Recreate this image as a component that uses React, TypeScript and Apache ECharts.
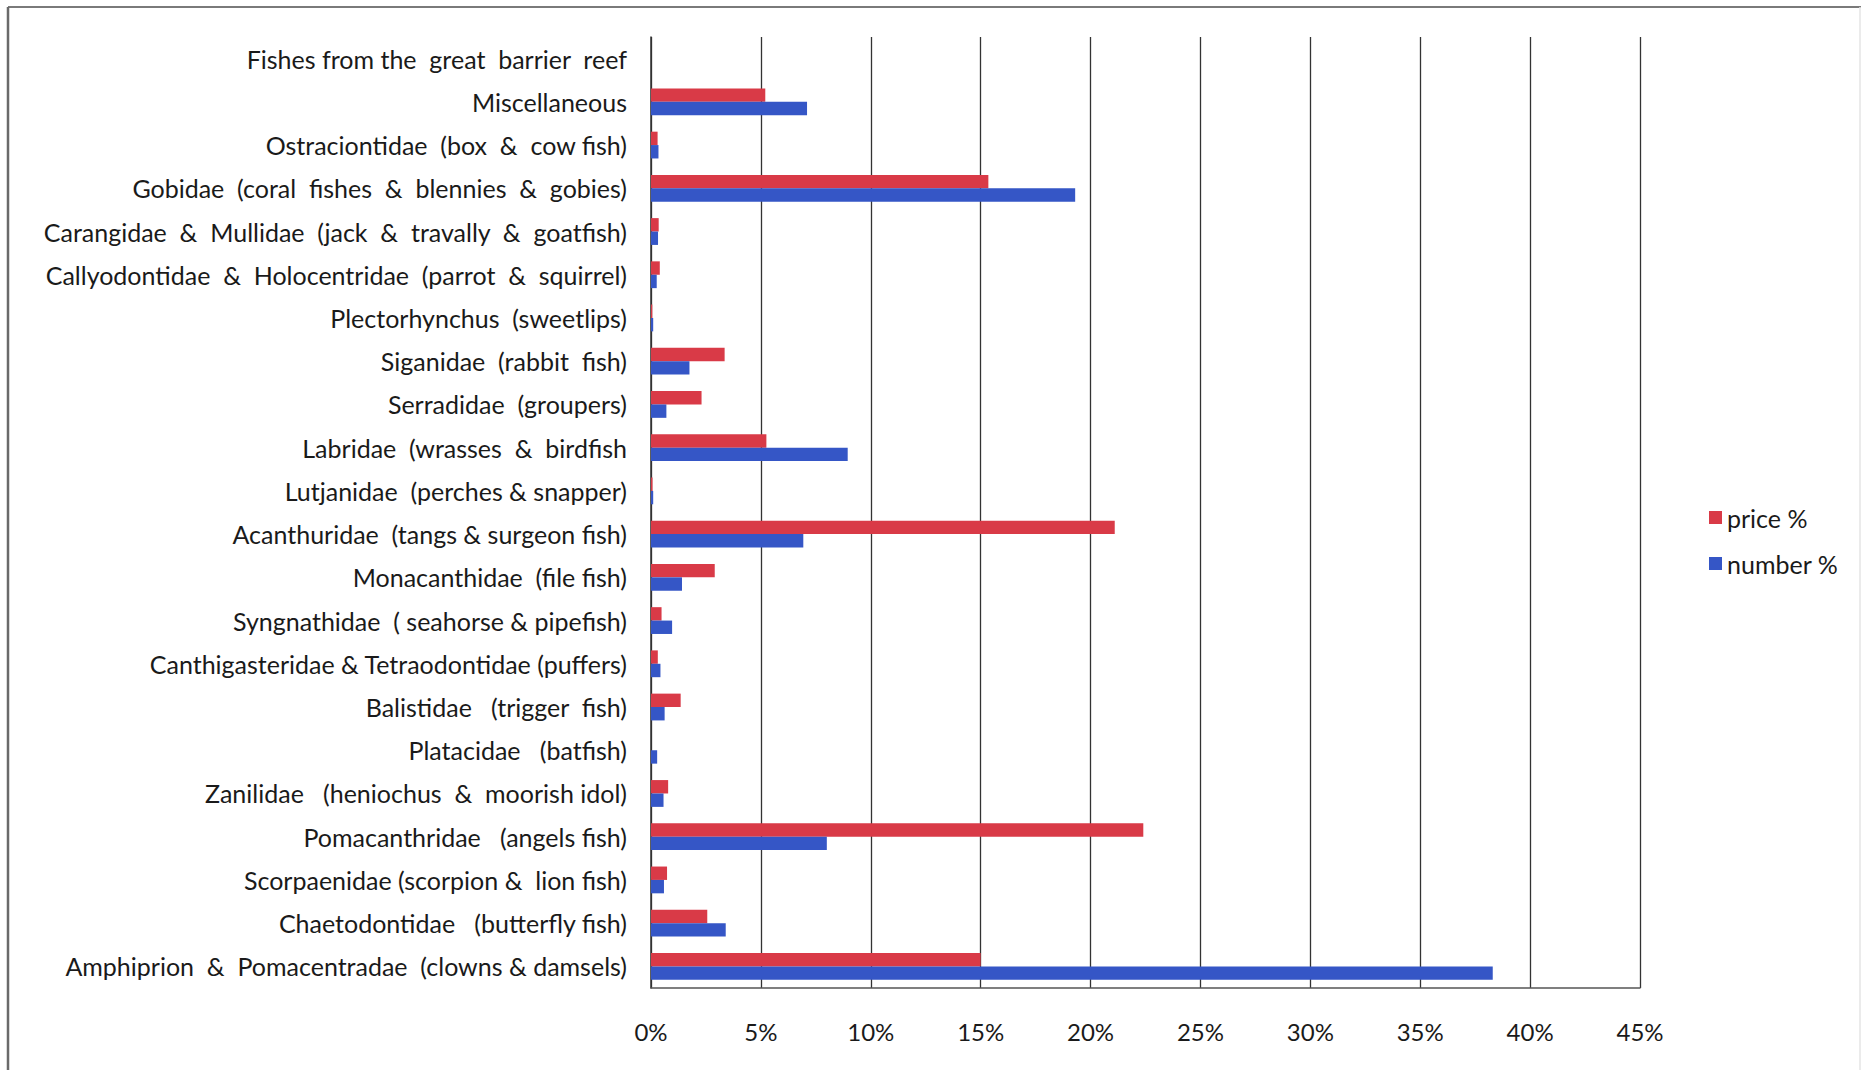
import React, { useEffect, useRef } from "react";
import * as echarts from "echarts";

const categories: string[] = [
  "Fishes from the  great  barrier  reef",
  "Miscellaneous",
  "Ostraciontidae  (box  &  cow fish)",
  "Gobidae  (coral  fishes  &  blennies  &  gobies)",
  "Carangidae  &  Mullidae  (jack  &  travally  &  goatfish)",
  "Callyodontidae  &  Holocentridae  (parrot  &  squirrel)",
  "Plectorhynchus  (sweetlips)",
  "Siganidae  (rabbit  fish)",
  "Serradidae  (groupers)",
  "Labridae  (wrasses  &  birdfish",
  "Lutjanidae  (perches & snapper)",
  "Acanthuridae  (tangs & surgeon fish)",
  "Monacanthidae  (file fish)",
  "Syngnathidae  ( seahorse & pipefish)",
  "Canthigasteridae & Tetraodontidae (puffers)",
  "Balistidae   (trigger  fish)",
  "Platacidae   (batfish)",
  "Zanilidae   (heniochus  &  moorish idol)",
  "Pomacanthridae   (angels fish)",
  "Scorpaenidae (scorpion &  lion fish)",
  "Chaetodontidae   (butterfly fish)",
  "Amphiprion  &  Pomacentradae  (clowns & damsels)",
];

const pricePct: number[] = [
  0, 5.2, 0.3, 15.35, 0.35, 0.4, 0.06, 3.35, 2.3, 5.25, 0.07, 21.1, 2.9, 0.48,
  0.31, 1.35, 0, 0.78, 22.4, 0.73, 2.56, 15.0,
];

const numberPct: number[] = [
  0, 7.1, 0.34, 19.3, 0.32, 0.26, 0.1, 1.75, 0.7, 8.95, 0.1, 6.93, 1.41, 0.96,
  0.43, 0.62, 0.28, 0.57, 8.0, 0.59, 3.4, 38.3,
];

const seriesNames: string[] = ["price %", "number %"];
const axisMax = 45;
const axisStep = 5;

const RED = "#D93A47";
const BLUE = "#3556C6";
const FONT = "Lato, 'Noto Sans', sans-serif";
const TEXT = "#1a1a1a";

export default function App() {
  const ref = useRef<HTMLDivElement>(null);
  useEffect(() => {
    if (!ref.current) return;
    const chart = echarts.init(ref.current, null, { renderer: "svg" });
    chart.setOption({
      animation: false,
      backgroundColor: "#ffffff",
      textStyle: { fontFamily: FONT },
      graphic: [
        {
          type: "line",
          shape: { x1: 8, y1: 7, x2: 1861, y2: 7 },
          style: { stroke: "#7a7a7a", lineWidth: 2 },
          silent: true,
        },
        {
          type: "line",
          shape: { x1: 8, y1: 7, x2: 8, y2: 1070 },
          style: { stroke: "#6a6a6a", lineWidth: 2.5 },
          silent: true,
        },
        {
          type: "line",
          shape: { x1: 1860, y1: 7, x2: 1860, y2: 1070 },
          style: { stroke: "#e4e4e4", lineWidth: 1.5 },
          silent: true,
        },
      ],
      legend: {
        orient: "vertical",
        left: 1704,
        top: 500,
        itemWidth: 13,
        itemHeight: 13,
        itemGap: 21,
        icon: "rect",
        textStyle: { fontSize: 25, color: TEXT, fontFamily: FONT },
        data: seriesNames,
      },
      grid: { left: 651, right: 223, top: 37, bottom: 82, containLabel: false },
      xAxis: {
        type: "value",
        min: 0,
        max: axisMax,
        interval: axisStep,
        axisLine: { show: true, lineStyle: { color: "#555", width: 1.5 } },
        axisTick: { show: false },
        splitLine: { show: true, lineStyle: { color: "#333", width: 1.3 } },
        axisLabel: {
          formatter: "{value}%",
          fontSize: 24,
          color: TEXT,
          margin: 31,
          fontFamily: FONT,
        },
      },
      yAxis: {
        type: "category",
        inverse: true,
        data: categories,
        axisLine: { show: true, lineStyle: { color: "#333", width: 1.5 } },
        axisTick: { show: false },
        axisLabel: {
          fontSize: 25,
          color: TEXT,
          margin: 24,
          fontFamily: FONT,
        },
      },
      series: [
        {
          name: seriesNames[0],
          type: "bar",
          data: pricePct,
          itemStyle: { color: RED },
          barGap: "0%",
          barCategoryGap: "38%",
        },
        {
          name: seriesNames[1],
          type: "bar",
          data: numberPct,
          itemStyle: { color: BLUE },
          barGap: "0%",
          barCategoryGap: "38%",
        },
      ],
    });
    return () => chart.dispose();
  }, []);
  return (
    <div
      ref={ref}
      style={{ position: "fixed", left: 0, top: 0, width: 1863, height: 1070 }}
    />
  );
}
